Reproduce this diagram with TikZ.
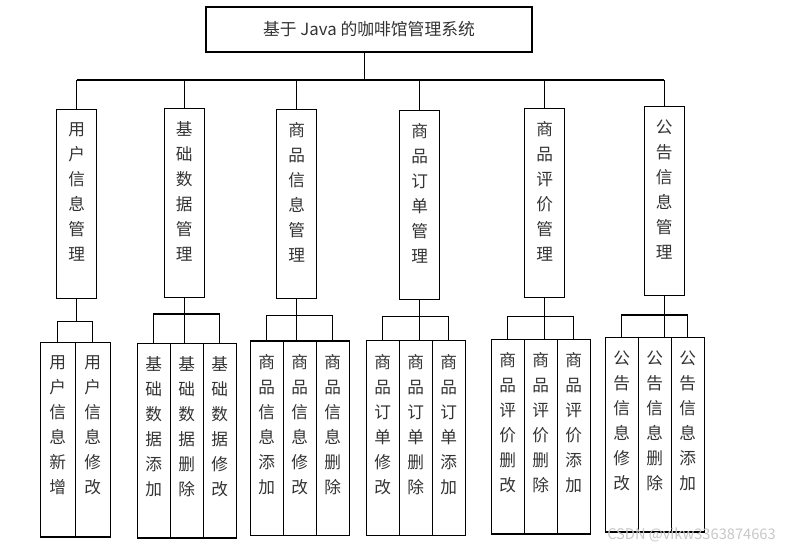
\documentclass[tikz,border=0pt]{standalone}
\usepackage{fontspec}
\setmainfont{Noto Sans CJK SC}
\usepackage{tikz}
\usetikzlibrary{positioning}

\begin{document}
\begin{tikzpicture}[
    x=0.75pt, y=-0.75pt,
    line width=0.9pt,
    every node/.style={text=black!80},
    box/.style={rectangle, draw, line width=0.9pt, outer sep=0pt, inner sep=0pt},
    titlebox/.style={box, minimum width=244.5pt, minimum height=33.75pt, font=\fontsize{12.6}{14}\selectfont},
    modbox/.style={box, anchor=north, minimum width=30pt, minimum height=142pt},
    leafbox/.style={box, minimum width=24.75pt, minimum height=146pt},
    vtext/.style={align=center, anchor=north, yshift=-9.5pt, inner sep=0pt, font=\fontsize{12.5}{18.75}\selectfont}
]
    \useasboundingbox (0,0) rectangle (792,549);

    % root
    \node[titlebox] (root) at (369,29.5) {基于 Java 的咖啡馆管理系统};

    % modules
    \node[modbox, label={[vtext]north:用\\户\\信\\息\\管\\理}] (m1) at (76.8,109.3) {};
    \node[modbox, label={[vtext]north:基\\础\\数\\据\\管\\理}] (m2) at (184.3,108.3) {};
    \node[modbox, label={[vtext]north:商\\品\\信\\息\\管\\理}] (m3) at (296.8,109.3) {};
    \node[modbox, label={[vtext]north:商\\品\\订\\单\\管\\理}] (m4) at (419.8,110.3) {};
    \node[modbox, label={[vtext]north:商\\品\\评\\价\\管\\理}] (m5) at (544.8,108.3) {};
    \node[modbox, label={[vtext]north:公\\告\\信\\息\\管\\理}] (m6) at (664.3,106.3) {};

    % leaves: user
    \node[leafbox, minimum width=26.25pt, anchor=north west, label={[vtext]north:用\\户\\信\\息\\新\\增}] (l1a) at (40.3,342.3) {};
    \node[leafbox, minimum width=26.25pt, right=0pt of l1a, label={[vtext]north:用\\户\\信\\息\\修\\改}] (l1b) {};

    % leaves: base data
    \node[leafbox, anchor=north west, label={[vtext]north:基\\础\\数\\据\\添\\加}] (l2a) at (137.3,343.3) {};
    \node[leafbox, right=0pt of l2a, label={[vtext]north:基\\础\\数\\据\\删\\除}] (l2b) {};
    \node[leafbox, right=0pt of l2b, label={[vtext]north:基\\础\\数\\据\\修\\改}] (l2c) {};

    % leaves: goods
    \node[leafbox, anchor=north west, label={[vtext]north:商\\品\\信\\息\\添\\加}] (l3a) at (250.3,341) {};
    \node[leafbox, right=0pt of l3a, label={[vtext]north:商\\品\\信\\息\\修\\改}] (l3b) {};
    \node[leafbox, right=0pt of l3b, label={[vtext]north:商\\品\\信\\息\\删\\除}] (l3c) {};

    % leaves: orders
    \node[leafbox, anchor=north west, label={[vtext]north:商\\品\\订\\单\\修\\改}] (l4a) at (366.3,340.7) {};
    \node[leafbox, right=0pt of l4a, label={[vtext]north:商\\品\\订\\单\\删\\除}] (l4b) {};
    \node[leafbox, right=0pt of l4b, label={[vtext]north:商\\品\\订\\单\\添\\加}] (l4c) {};

    % leaves: reviews
    \node[leafbox, anchor=north west, label={[vtext]north:商\\品\\评\\价\\删\\改}] (l5a) at (491.3,339.3) {};
    \node[leafbox, right=0pt of l5a, label={[vtext]north:商\\品\\评\\价\\删\\除}] (l5b) {};
    \node[leafbox, right=0pt of l5b, label={[vtext]north:商\\品\\评\\价\\添\\加}] (l5c) {};

    % leaves: notices
    \node[leafbox, anchor=north west, label={[vtext]north:公\\告\\信\\息\\修\\改}] (l6a) at (605.3,337.3) {};
    \node[leafbox, right=0pt of l6a, label={[vtext]north:公\\告\\信\\息\\删\\除}] (l6b) {};
    \node[leafbox, right=0pt of l6b, label={[vtext]north:公\\告\\信\\息\\添\\加}] (l6c) {};

    % watermark
    \node[text=black!22, font=\fontsize{11}{13}\selectfont] (wm) at (691.5,535) {CSDN @vikw3363874663};

    % root to modules
    \coordinate (bus) at (364.7,80);
    \draw (root.south -| bus) -- (bus);
    \draw (m1.north |- bus) -- (m6.north |- bus);
    \foreach \i in {1,...,6}
        \draw (m\i.north) -- (m\i.north |- bus);

    % modules to leaves
    \coordinate (s1) at (0,321.7);
    \coordinate (s2) at (0,314);
    \coordinate (s3) at (0,315.3);
    \coordinate (s4) at (0,316.3);
    \coordinate (s5) at (0,316.3);
    \coordinate (s6) at (0,315);
    \draw (m1.south) -- (m1.south |- s1);
    \draw (l1a.north) -- (l1a.north |- s1) -| (l1b.north);
    \foreach \i in {2,...,6} {
        \draw (m\i.south) -- (m\i.south |- l\i b.north);
        \draw (l\i a.north) -- (l\i a.north |- s\i) -| (l\i c.north);
    }
\end{tikzpicture}
\end{document}
